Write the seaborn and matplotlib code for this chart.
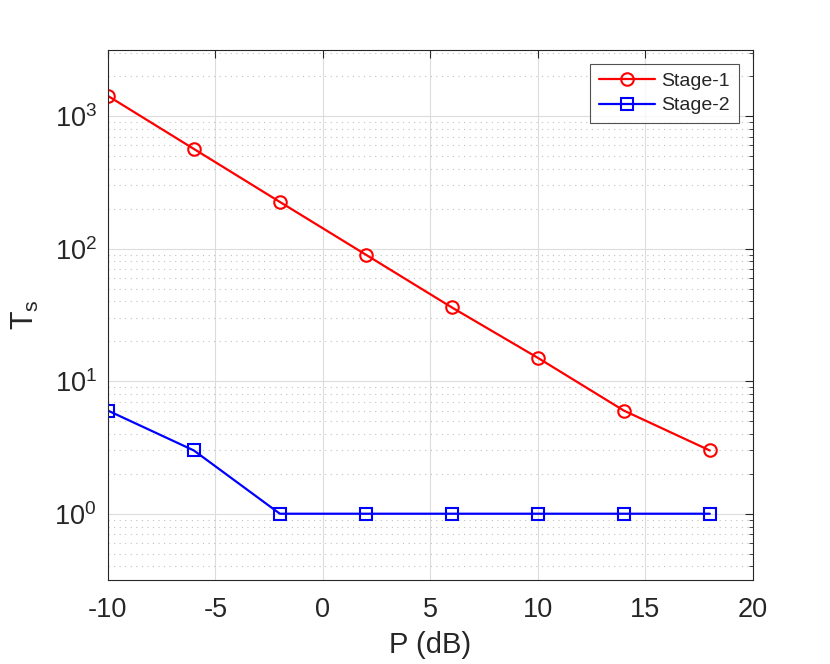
import numpy as np
import pandas as pd
import matplotlib
matplotlib.use("Agg")
import matplotlib.pyplot as plt
import seaborn as sns
from matplotlib.ticker import LogLocator, NullFormatter, MultipleLocator

# values
p_db = [-10, -6, -2, 2, 6, 10, 14, 18]
stage1 = [1420, 565, 225, 90, 36, 15, 6, 3]
stage2 = [6, 3, 1, 1, 1, 1, 1, 1]
series = ["Stage-1", "Stage-2"]
colors = ["#ff0000", "#0000ff"]

df = pd.DataFrame({
    "P": p_db * 2,
    "Ts": stage1 + stage2,
    "series": [series[0]] * len(p_db) + [series[1]] * len(p_db),
})

sns.set_style("white")
plt.rcParams["font.family"] = ["Liberation Sans", "DejaVu Sans"]
plt.rcParams["mathtext.fontset"] = "custom"
plt.rcParams["mathtext.rm"] = "Liberation Sans"
plt.rcParams["mathtext.it"] = "Liberation Sans:italic"
plt.rcParams["axes.unicode_minus"] = False

fig = plt.figure(figsize=(8.3, 6.64), dpi=100)
ax = fig.add_axes([0.130, 0.1265, 0.777, 0.7985])

sns.lineplot(data=df, x="P", y="Ts", hue="series", style="series",
             markers=["o", "s"], dashes=False, palette=colors,
             markersize=9, markeredgewidth=1.5, linewidth=1.6,
             legend=False, ax=ax)
for line, c in zip(ax.lines, colors):
    line.set_markeredgecolor(c)
    line.set_markerfacecolor("none")

ax.set_yscale("log")
ax.set_xlim(-10, 20)
ax.set_ylim(10 ** -0.5, 10 ** 3.5)
ax.xaxis.set_major_locator(MultipleLocator(5))
ax.yaxis.set_major_locator(LogLocator(base=10, numticks=10))
ax.yaxis.set_minor_locator(LogLocator(base=10, subs=np.arange(2, 10), numticks=20))
ax.yaxis.set_minor_formatter(NullFormatter())

ax.grid(True, which="major", color="#dcdcdc", linewidth=0.8, linestyle="-")
ax.grid(True, which="minor", axis="y", color="#c0c0c0", linewidth=0.8, linestyle=(0, (1, 4)))
ax.set_axisbelow(True)

ax.tick_params(axis="both", which="both", direction="in", top=True, right=True,
               colors="#262626", labelsize=19.5)
ax.tick_params(axis="x", which="major", pad=12)
ax.tick_params(axis="y", which="major", pad=8)
ax.tick_params(which="major", length=6, width=0.8)
ax.tick_params(which="minor", length=3, width=0.6)
for s in ax.spines.values():
    s.set_color("#262626")
    s.set_linewidth(0.8)

ax.set_xlabel("P (dB)", fontsize=21, color="#262626", labelpad=6)
ax.set_ylabel(r"T$_\mathrm{s}$", fontsize=22, color="#262626", labelpad=10)

leg = ax.legend(handles=ax.lines[:2], labels=series, loc="upper right",
                bbox_to_anchor=(0.978, 0.974), fontsize=14, frameon=True,
                fancybox=False, edgecolor="#262626", borderpad=0.45,
                handlelength=2.9, handletextpad=0.3, labelspacing=0.35,
                borderaxespad=0.0)
leg.get_frame().set_linewidth(0.8)

fig.savefig("out.png", dpi=100)
